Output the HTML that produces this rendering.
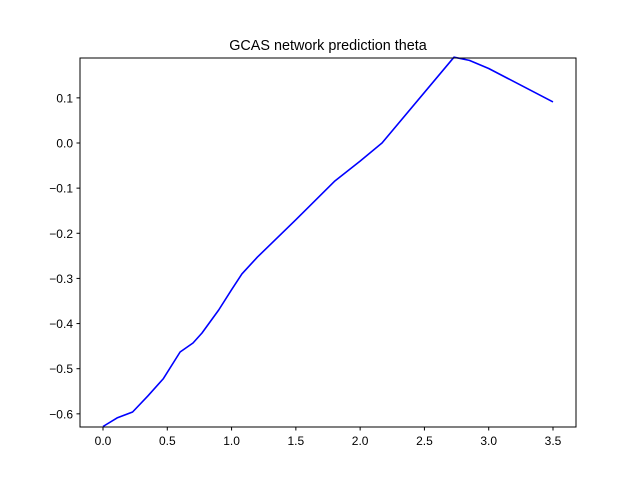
<!DOCTYPE html>
<html><head><meta charset="utf-8"><style>body{margin:0;background:#fff}svg{display:block;font-family:"Liberation Sans",sans-serif}</style></head>
<body>
<svg id="chart" width="640" height="480">
<rect width="640" height="480" fill="#fff"/>
<text x="328" y="50" font-size="14.4" text-anchor="middle">GCAS network prediction theta</text>
<g id="ticks"></g>
<path id="line" fill="none" stroke="#0000ff" stroke-width="1.6" stroke-linejoin="round"/>
<rect x="80" y="58" width="496" height="369" fill="none" stroke="#000" stroke-width="1"/>
</svg>
<script>
const xs=[0,0.11,0.23,0.35,0.47,0.6,0.7,0.77,0.9,1.0,1.08,1.2,1.5,1.8,2.0,2.17,2.73,2.85,3.0,3.5];
const ys=[-0.628,-0.609,-0.596,-0.56,-0.522,-0.463,-0.443,-0.421,-0.37,-0.325,-0.29,-0.253,-0.17,-0.085,-0.04,0.0,0.19,0.183,0.165,0.091];
const xTicks=[0,0.5,1,1.5,2,2.5,3,3.5];
const xTickLabels=["0.0","0.5","1.0","1.5","2.0","2.5","3.0","3.5"];
const yTicks=[-0.6,-0.5,-0.4,-0.3,-0.2,-0.1,0,0.1];
const yTickLabels=["−0.6","−0.5","−0.4","−0.3","−0.2","−0.1","0.0","0.1"];
const X=v=>103+v*450/3.5;
const Y=v=>143-v*451.4;
document.getElementById('line').setAttribute('d',xs.map((x,i)=>(i?'L':'M')+X(x).toFixed(1)+' '+Y(ys[i]).toFixed(1)).join(''));
const g=document.getElementById('ticks');const ns='http://www.w3.org/2000/svg';
xTicks.forEach((t,i)=>{const l=document.createElementNS(ns,'line');l.setAttribute('x1',X(t));l.setAttribute('x2',X(t));l.setAttribute('y1',427);l.setAttribute('y2',430.5);l.setAttribute('stroke','#000');

g.appendChild(l);
const tx=document.createElementNS(ns,'text');tx.setAttribute('x',X(t));tx.setAttribute('y',445);tx.setAttribute('font-size','12');tx.setAttribute('text-anchor','middle');tx.textContent=xTickLabels[i];

g.appendChild(tx);});
yTicks.forEach((t,i)=>{const l=document.createElementNS(ns,'line');l.setAttribute('x1',76.5);l.setAttribute('x2',80);l.setAttribute('y1',Y(t));l.setAttribute('y2',Y(t));l.setAttribute('stroke','#000');

g.appendChild(l);
const tx=document.createElementNS(ns,'text');tx.setAttribute('x',73);tx.setAttribute('y',Y(t)+4.5);tx.setAttribute('font-size','12');tx.setAttribute('text-anchor','end');tx.textContent=yTickLabels[i];

g.appendChild(tx);});
</script>
</body></html>
